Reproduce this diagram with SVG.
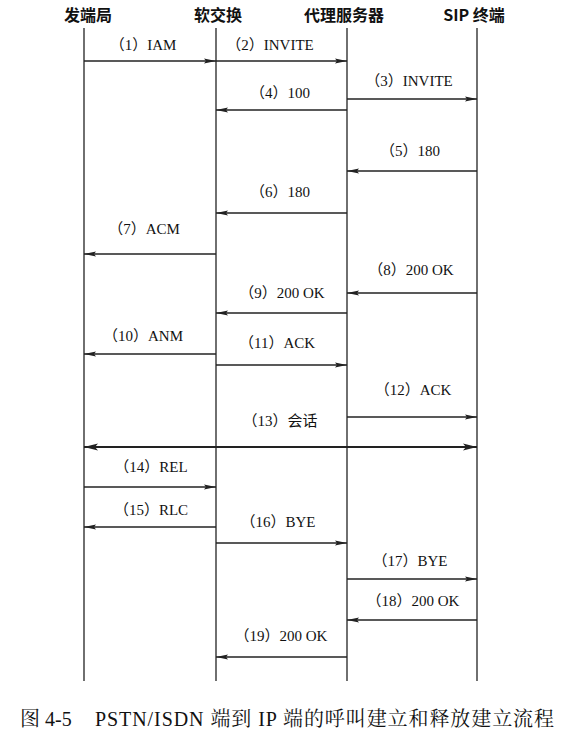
<svg xmlns="http://www.w3.org/2000/svg" width="561" height="741" viewBox="0 0 561 741">
<style>
.hdr{font-family:"Noto Sans CJK SC","Liberation Sans",sans-serif;font-size:16px;font-weight:bold;fill:#111;text-anchor:middle}
.lbl{font-family:"Liberation Serif","Noto Sans CJK SC",serif;font-size:15px;fill:#111;text-anchor:middle}
.life{stroke:#222;stroke-width:1.3;fill:none}
.msg{stroke:#222;stroke-width:1.3;fill:none;marker-end:url(#ah)}
.cap{font-family:"Liberation Serif","Noto Serif CJK SC","Noto Sans CJK SC",serif;font-size:20px;fill:#111}
</style>
<defs>
<marker id="ah" viewBox="0 0 12 6" refX="12" refY="3" markerWidth="12" markerHeight="6" markerUnits="userSpaceOnUse" orient="auto-start-reverse">
<path d="M0,0.6 L12,3 L0,5.4 L2,3 Z" fill="#222"/>
</marker>
<marker id="ah2" viewBox="0 0 14 8" refX="14" refY="4" markerWidth="14" markerHeight="8" markerUnits="userSpaceOnUse" orient="auto-start-reverse">
<path d="M0,0.5 L14,4 L0,7.5 L3,4 Z" fill="#222"/>
</marker>
</defs>
<rect width="561" height="741" fill="#fff"/>
<g id="n-fdj"><text class="hdr" x="88" y="21">发端局</text><line class="life" x1="84" y1="28" x2="84" y2="681"/></g>
<g id="n-rjh"><text class="hdr" x="218" y="21">软交换</text><line class="life" x1="216" y1="28" x2="216" y2="681"/></g>
<g id="n-dlfwq"><text class="hdr" x="344" y="21">代理服务器</text><line class="life" x1="347" y1="28" x2="347" y2="681"/></g>
<g id="n-sip"><text class="hdr" x="474" y="21">SIP 终端</text><line class="life" x1="477" y1="28" x2="477" y2="681"/></g>
<g id="connectors">
<line class="msg" x1="84" y1="61" x2="216" y2="61"/>
<line class="msg" x1="216" y1="61" x2="347" y2="61"/>
<line class="msg" x1="347" y1="99" x2="477" y2="99"/>
<line class="msg" x1="347" y1="110" x2="216" y2="110"/>
<line class="msg" x1="477" y1="171" x2="347" y2="171"/>
<line class="msg" x1="347" y1="213" x2="216" y2="213"/>
<line class="msg" x1="216" y1="254" x2="84" y2="254"/>
<line class="msg" x1="477" y1="293" x2="347" y2="293"/>
<line class="msg" x1="347" y1="313" x2="216" y2="313"/>
<line class="msg" x1="216" y1="354" x2="84" y2="354"/>
<line class="msg" x1="216" y1="365" x2="347" y2="365"/>
<line class="msg" x1="347" y1="417" x2="477" y2="417"/>
<line x1="84" y1="447" x2="477" y2="447" stroke="#222" stroke-width="2.2" marker-start="url(#ah2)" marker-end="url(#ah2)"/>
<line class="msg" x1="84" y1="487" x2="216" y2="487"/>
<line class="msg" x1="216" y1="527" x2="84" y2="527"/>
<line class="msg" x1="216" y1="543" x2="347" y2="543"/>
<line class="msg" x1="347" y1="579" x2="477" y2="579"/>
<line class="msg" x1="477" y1="620" x2="347" y2="620"/>
<line class="msg" x1="347" y1="657" x2="216" y2="657"/>
<text class="lbl" x="143" y="50">（1）IAM</text>
<text class="lbl" x="270" y="50">（2）INVITE</text>
<text class="lbl" x="409" y="86">（3）INVITE</text>
<text class="lbl" x="280" y="98">（4）100</text>
<text class="lbl" x="410" y="156">（5）180</text>
<text class="lbl" x="280" y="197">（6）180</text>
<text class="lbl" x="144" y="234">（7）ACM</text>
<text class="lbl" x="411" y="275">（8）200 OK</text>
<text class="lbl" x="282" y="298">（9）200 OK</text>
<text class="lbl" x="143" y="341">（10）ANM</text>
<text class="lbl" x="277" y="348">（11）ACK</text>
<text class="lbl" x="413" y="395">（12）ACK</text>
<text class="lbl" x="280" y="426">（13）会话</text>
<text class="lbl" x="151" y="472">（14）REL</text>
<text class="lbl" x="151" y="515">（15）RLC</text>
<text class="lbl" x="278" y="527">（16）BYE</text>
<text class="lbl" x="410" y="566">（17）BYE</text>
<text class="lbl" x="413" y="606">（18）200 OK</text>
<text class="lbl" x="281" y="641">（19）200 OK</text>
</g>
<g id="caption"><text class="cap" x="20" y="726">图 4-5<tspan x="95" textLength="459" lengthAdjust="spacing">PSTN/ISDN 端到 IP 端的呼叫建立和释放建立流程</tspan></text></g>
</svg>
